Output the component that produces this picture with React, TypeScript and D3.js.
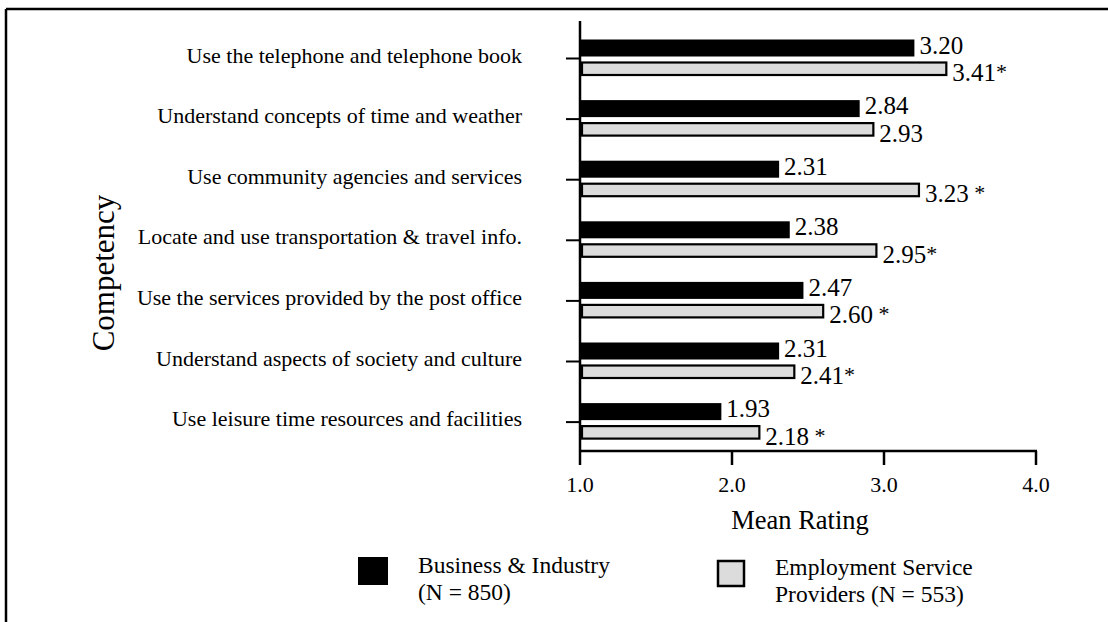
import React from "react";
import * as d3 from "d3";

const categories = [
  "Use the telephone and telephone book",
  "Understand concepts of time and weather",
  "Use community agencies and services",
  "Locate and use transportation & travel info.",
  "Use the services provided by the post office",
  "Understand aspects of society and culture",
  "Use leisure time resources and facilities",
];
const businessValues = [3.2, 2.84, 2.31, 2.38, 2.47, 2.31, 1.93];
const providerValues = [3.41, 2.93, 3.23, 2.95, 2.6, 2.41, 2.18];
const significance = ["*", "", " *", "*", " *", "*", " *"];
const xTicks = [1, 2, 3, 4];
const legendLines1 = ["Business & Industry", "(N = 850)"];
const legendLines2 = ["Employment Service", "Providers (N = 553)"];

const FONT = '"Liberation Serif", "Times New Roman", Times, serif';

export default function App() {
  const W = 1108;
  const H = 622;
  const x = d3.scaleLinear().domain([1, 4]).range([580, 1036]);
  const y = d3.scalePoint<string>().domain(categories).range([58.5, 422.1]);
  const axisY = 451;

  return (
    <svg
      width={W}
      height={H}
      style={{ position: "absolute", left: 0, top: 0, background: "#fff" }}
      fontFamily={FONT}
    >
      <rect x={0} y={0} width={W} height={H} fill="#fff" />
      {/* frame */}
      <line x1={6} y1={9} x2={W} y2={9} stroke="#000" strokeWidth={2.5} />
      <line x1={6} y1={9} x2={6} y2={H} stroke="#000" strokeWidth={2.5} />

      {/* bars */}
      {categories.map((c, i) => {
        const cy = y(c)!;
        return (
          <g key={c}>
            <rect
              x={x(1)}
              y={cy - 19}
              width={x(businessValues[i]) - x(1)}
              height={17}
              fill="#000"
            />
            <rect
              x={x(1) + 2}
              y={cy + 4}
              width={x(providerValues[i]) - x(1) - 2}
              height={12.5}
              fill="#dcdcdc"
              stroke="#000"
              strokeWidth={2.2}
            />
            <text x={x(businessValues[i]) + 5} y={cy - 5} fontSize={25} fill="#000">
              {businessValues[i].toFixed(2)}
            </text>
            <text
              x={x(providerValues[i]) + 6}
              y={cy + 22.5}
              fontSize={25}
              fill="#000"
              style={{ whiteSpace: "pre" }}
            >
              {providerValues[i].toFixed(2)}
              {significance[i] ? (
                <tspan fontSize={22} dy={-2}>{significance[i]}</tspan>
              ) : null}
            </text>
            {/* category label */}
            <text x={522} y={cy + 4} fontSize={22} textAnchor="end" fill="#000">
              {c}
            </text>
            {/* y tick */}
            <line x1={566} x2={x(1)} y1={cy} y2={cy} stroke="#000" strokeWidth={2} />
          </g>
        );
      })}

      {/* axes */}
      <line x1={x(1)} x2={x(1)} y1={21} y2={axisY} stroke="#000" strokeWidth={2.5} />
      <line x1={x(1) - 1} x2={x(4) + 1} y1={axisY} y2={axisY} stroke="#000" strokeWidth={2.5} />
      {xTicks.map((t) => (
        <g key={t}>
          <line x1={x(t)} x2={x(t)} y1={axisY} y2={axisY + 14} stroke="#000" strokeWidth={2.5} />
          <text x={x(t)} y={492} fontSize={22} textAnchor="middle" fill="#000">
            {t.toFixed(1)}
          </text>
        </g>
      ))}

      <text x={800} y={529} fontSize={26.5} textAnchor="middle" fill="#000">
        Mean Rating
      </text>
      <text
        transform={`translate(114, 273) rotate(-90)`}
        fontSize={31}
        textAnchor="middle"
        fill="#000"
      >
        Competency
      </text>

      {/* legend */}
      <rect x={358} y={557} width={30} height={28} fill="#000" />
      {legendLines1.map((l, i) => (
        <text key={l} x={418} y={573 + i * 27} fontSize={23.5} fill="#000">
          {l}
        </text>
      ))}
      <rect x={718} y={561} width={26} height={25} fill="#dcdcdc" stroke="#000" strokeWidth={2.5} />
      {legendLines2.map((l, i) => (
        <text key={l} x={775} y={575 + i * 27} fontSize={23.5} fill="#000">
          {l}
        </text>
      ))}
    </svg>
  );
}
